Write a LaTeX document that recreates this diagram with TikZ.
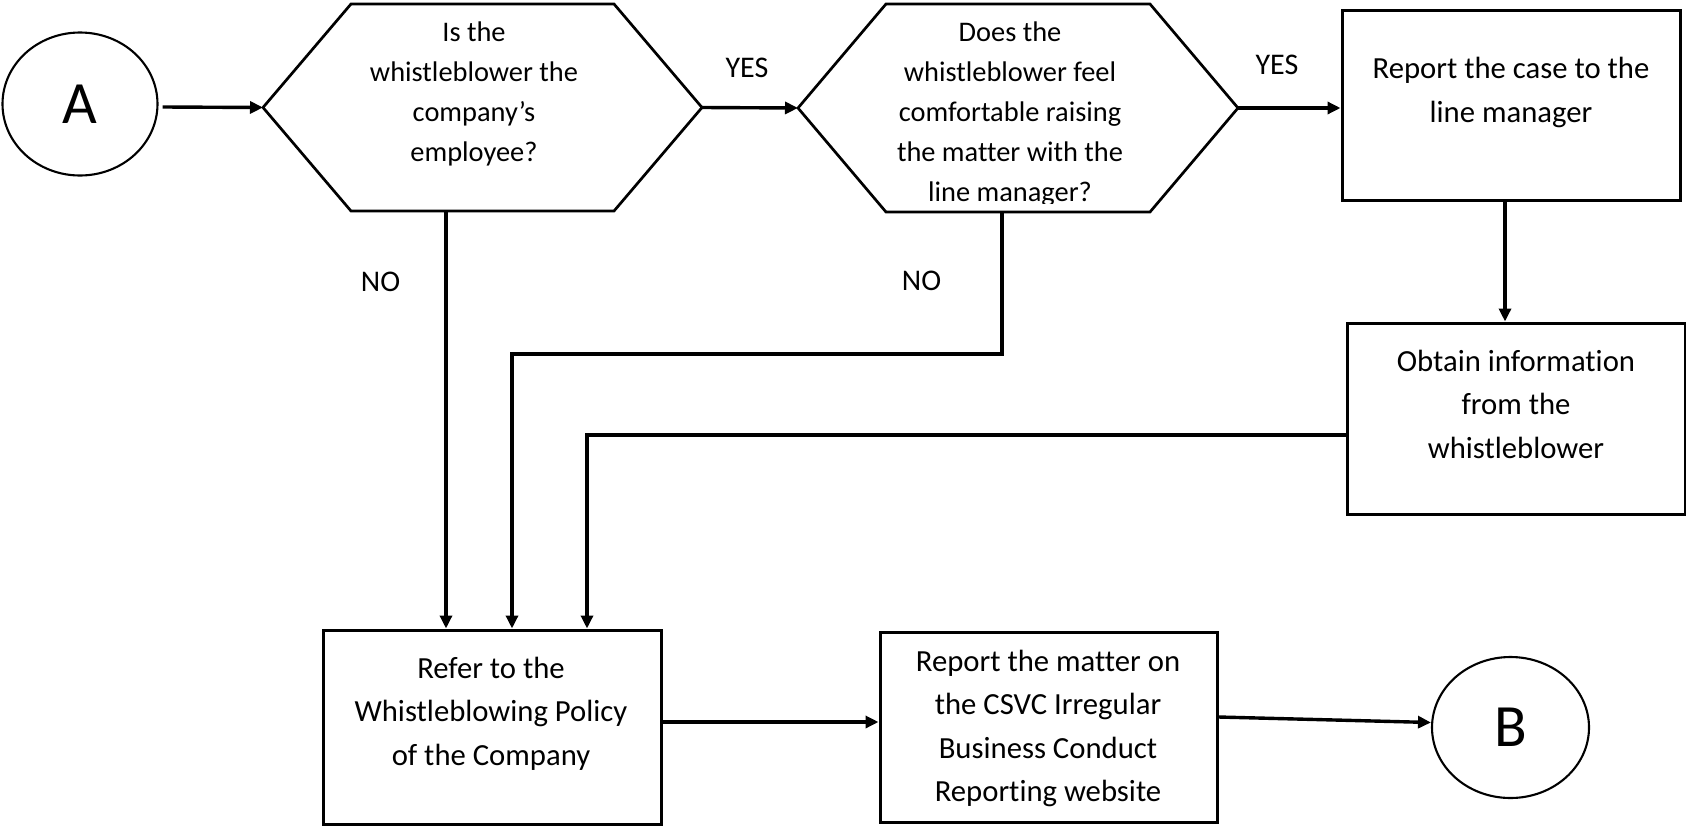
\documentclass[tikz,border=0pt]{standalone}
\usepackage{fontspec}
\setmainfont[Ligatures=NoCommon]{Carlito}
\usetikzlibrary{arrows.meta,shapes.geometric}

\begin{document}
\begin{tikzpicture}[x=1pt, y=-1pt,
    outline/.style={draw, line width=2.7pt, line join=miter},
    box/.style={draw, line width=3pt, inner sep=0pt},
    term/.style={draw, ellipse, line width=2.1pt, inner sep=0pt, font=\fontsize{60}{60}\selectfont},
    qtext/.style={align=center, inner sep=0pt, anchor=north, font=\fontsize{28.4}{40}\selectfont},
    btext/.style={align=center, inner sep=0pt, anchor=north, font=\fontsize{30.7}{43.5}\selectfont},
    lbl/.style={inner sep=0pt, font=\fontsize{30}{36}\selectfont},
    flow/.style={line width=3.4pt, -{Triangle[length=13pt,width=12pt]}}]
    \useasboundingbox (0,0) rectangle (1686,827);

    % start and end
    \node[term, minimum width=155pt, minimum height=143pt] (circA) at (80,104) {A};
    \node[term, minimum width=157pt, minimum height=141pt] (circB) at (1510.5,727.5) {B};

    % first question
    \coordinate (qEmpW) at (263,107.5);
    \coordinate (qEmpE) at (702,107.5);
    \coordinate (qEmpS) at (446,211);
    \draw[outline] (qEmpW) -- (351,4) -- (614,4) -- (qEmpE) -- (614,211) -- (351,211) -- cycle;
    \node[qtext] (qEmpTxt) at (474,22) {Is the\\whistleblower the\\company’s\\employee?};

    % second question
    \coordinate (qComfW) at (798,108);
    \coordinate (qComfE) at (1238,108);
    \coordinate (qComfS) at (1002,212);
    \draw[outline] (qComfW) -- (886,4) -- (1150,4) -- (qComfE) -- (1150,212) -- (886,212) -- cycle;
    \begin{scope}
        \clip (798,0) rectangle (1238,203);
        \node[qtext] (qComfTxt) at (1010,22) {Does the\\whistleblower feel\\comfortable raising\\the matter with the\\line manager?};
    \end{scope}

    % boxes
    \node[box, minimum width=338pt, minimum height=190pt] (lineMgr) at (1511,105) {};
    \node[btext] (lineMgrTxt) at (1511,57) {Report the case to the\\line manager};
    \node[box, minimum width=338pt, minimum height=191pt] (obtain) at (1516,418.5) {};
    \node[btext] (obtainTxt) at (1516,349.5) {Obtain information\\from the\\whistleblower};
    \node[box, minimum width=338pt, minimum height=194pt] (policy) at (492,727) {};
    \node[btext] (policyTxt) at (491,656.5) {Refer to the\\Whistleblowing Policy\\of the Company};
    \node[box, minimum width=337pt, minimum height=190pt] (csvc) at (1048.5,727) {};
    \node[btext] (csvcTxt) at (1048,649.5) {Report the matter on\\the CSVC Irregular\\Business Conduct\\Reporting website};

    % labels
    \node[lbl] (yesOne) at (747,68) {YES};
    \node[lbl] (yesTwo) at (1277,64.5) {YES};
    \node[lbl] (noOne) at (380.5,281.5) {NO};
    \node[lbl] (noTwo) at (921.5,280.5) {NO};

    % connectors
    \draw[flow] ([xshift=4pt,yshift=-3pt]circA.east) -- (qEmpW);
    \draw[flow] (qEmpE) -- (qComfW);
    \draw[flow] (qComfE) -- (lineMgr.west |- qComfE);
    \draw[flow] ([xshift=-6pt]lineMgr.south) -- ([xshift=-11pt]obtain.north);
    \draw[flow] (qEmpS) -- (qEmpS |- policy.north);
    \draw[flow] (qComfS) -- ++(0,142) -| ([xshift=20pt]policy.north);
    \draw[flow] ([yshift=-16.5pt]obtain.west) -| ([xshift=95pt]policy.north);
    \draw[flow] ([yshift=5pt]policy.east) -- ([yshift=5pt]csvc.west);
    \draw[flow] ([yshift=10pt]csvc.east) -- ([yshift=5pt]circB.west);
\end{tikzpicture}
\end{document}
